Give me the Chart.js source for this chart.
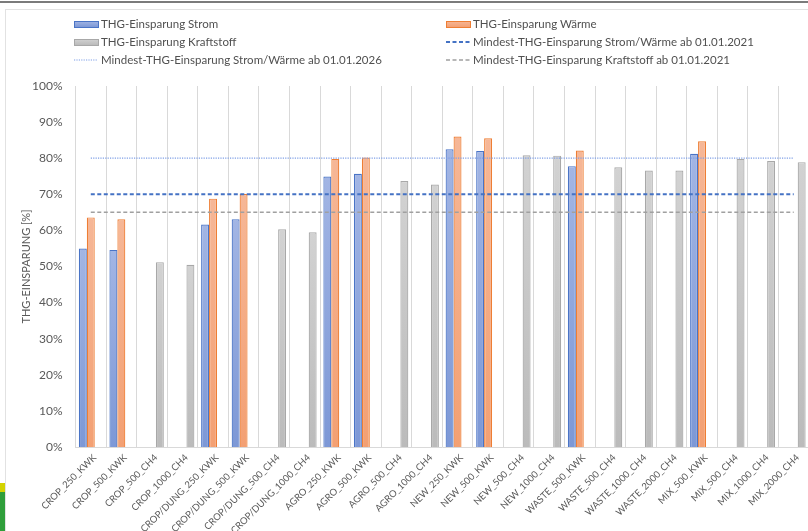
<!DOCTYPE html>
<html><head><meta charset="utf-8">
<script src="https://cdn.jsdelivr.net/npm/chart.js@4/dist/chart.umd.min.js"></script>
<style>
html,body{margin:0;padding:0;background:#fff;width:808px;height:531px;overflow:hidden;position:relative;font-family:'Lato',sans-serif;}
#topline{position:absolute;left:0;top:1px;width:808px;height:2px;background:#7b7b7b;}
#box{position:absolute;left:5px;top:9px;width:830px;height:560px;border:1px solid #e2e2e2;box-sizing:border-box;}
#yel{position:absolute;left:0;top:483px;width:5px;height:9px;background:#d3d300;}
#grn{position:absolute;left:0;top:492px;width:5px;height:39px;background:#2f9e3a;}
#chart{position:absolute;left:0;top:0;}
#legend{position:absolute;left:0;top:0;width:808px;height:80px;}
.li{position:absolute;height:16px;display:flex;align-items:center;font-size:11.5px;color:#505050;white-space:nowrap;}
.li canvas{margin-right:2px;display:block;}
</style></head><body>
<div id="topline"></div>
<div id="box"></div>
<div id="yel"></div>
<div id="grn"></div>
<canvas id="chart" width="809" height="531"></canvas>
<div id="legend"></div>
<script>
const categories = ['CROP_250_KWK','CROP_500_KWK','CROP_500_CH4','CROP_1000_CH4','CROP/DUNG_250_KWK','CROP/DUNG_500_KWK','CROP/DUNG_500_CH4','CROP/DUNG_1000_CH4','AGRO_250_KWK','AGRO_500_KWK','AGRO_500_CH4','AGRO_1000_CH4','NEW_250_KWK','NEW_500_KWK','NEW_500_CH4','NEW_1000_CH4','WASTE_500_KWK','WASTE_500_CH4','WASTE_1000_CH4','WASTE_2000_CH4','MIX_500_KWK','MIX_500_CH4','MIX_1000_CH4','MIX_2000_CH4'];
const strom = [55.0,54.6,null,null,61.6,63.1,null,null,74.9,75.7,null,null,82.5,82.0,null,null,77.8,null,null,null,81.2,null,null,null];
const waerme = [63.6,63.1,null,null,68.8,70.1,null,null,79.8,80.2,null,null,86.0,85.5,null,null,82.1,null,null,null,84.7,null,null,null];
const kraftstoff = [null,null,51.2,50.5,null,null,60.3,59.5,null,null,73.7,72.7,null,null,80.8,80.7,null,77.5,76.6,76.6,null,79.8,79.2,78.9];
const barLabels = ['THG-Einsparung Strom','THG-Einsparung Wärme','THG-Einsparung Kraftstoff'];
const thresholdLabels = ['Mindest-THG-Einsparung Strom/Wärme ab 01.01.2021','Mindest-THG-Einsparung Strom/Wärme ab 01.01.2026','Mindest-THG-Einsparung Kraftstoff ab 01.01.2021'];
const thresholdValues = [70, 80, 65];
const yTicks = [0,10,20,30,40,50,60,70,80,90,100];

const barStyles = [
  {top:'#a2b5e4', bottom:'#7d98d6', border:'#4a74c6'},
  {top:'#f6b797', bottom:'#f3a073', border:'#ee7e34'},
  {top:'#d2d2d2', bottom:'#bbbbbb', border:'#a8a8a8'}
];
const lineStyles = [
  {color:'#4472c4', width:2, dash:[4,2.5]},
  {color:'#7d9ee6', width:1.2, dash:[1.2,1.2]},
  {color:'#a0a0a0', width:1.5, dash:[4,2.5]}
];

function barGrad(style){
  return function(ctx){
    const chart = ctx.chart;
    const y = chart.scales && chart.scales.y;
    if (!y || ctx.raw == null || ctx.type !== 'data') return style.bottom;
    const y0 = y.getPixelForValue(0), y1 = y.getPixelForValue(ctx.raw);
    if (!isFinite(y0) || !isFinite(y1) || y0 === y1) return style.bottom;
    const g = chart.ctx.createLinearGradient(0, y0, 0, y1);
    g.addColorStop(0, style.bottom);
    g.addColorStop(1, style.top);
    return g;
  };
}

const seriesData = [strom, waerme, kraftstoff];
const datasets = [];
seriesData.forEach((d,i)=>{
  datasets.push({
    type:'bar', label: barLabels[i], data: d,
    backgroundColor: barGrad(barStyles[i]),
    borderColor: barStyles[i].border, borderWidth: 1.2,
    categoryPercentage: 0.78, barPercentage: 1.0, order: 1
  });
});
thresholdValues.forEach((v,i)=>{
  datasets.push({
    type:'line', label: thresholdLabels[i],
    data: [{x: categories[0], y: v}, {x: categories[categories.length-1], y: v}],
    borderColor: lineStyles[i].color, borderWidth: lineStyles[i].width,
    borderDash: lineStyles[i].dash, pointRadius: 0, fill: false, order: 0
  });
});

const FONT = "'Lato', sans-serif";
const chart = new Chart(document.getElementById('chart'), {
  data: { labels: categories, datasets },
  options: {
    responsive: false, animation: false,
    layout: { padding: { top: 86, left: 14, right: 0, bottom: 0 } },
    plugins: { legend: { display: false }, tooltip: { enabled: false } },
    scales: {
      x: {
        offset: true,
        grid: { display: true, offset: true, color: '#d9d9d9', lineWidth: 1, drawTicks: false },
        border: { display: true, color: '#d9d9d9' },
        ticks: { minRotation: 45, maxRotation: 45, autoSkip: false, padding: 5, labelOffset: 4,
          color: '#595959', font: { family: FONT, size: 9.5 } },
        afterFit: s => { s.height = 84; }
      },
      y: {
        min: 0, max: 100,
        afterBuildTicks: s => { s.ticks = yTicks.map(v => ({value: v})); },
        grid: { display: false, drawTicks: false },
        border: { display: false },
        ticks: { padding: 13, color: '#595959', font: { family: FONT, size: 12 },
          callback: v => v + '%' },
        title: { display: true, text: 'THG-EINSPARUNG [%]', color: '#595959',
          font: { family: FONT, size: 11 }, padding: { top: 6, bottom: 0 } },
        afterFit: s => { s.width = 61.5; }
      }
    }
  }
});

const legend = document.getElementById('legend');
const colX = [74, 446];
const rowY = [23.5, 41.5, 59.5];
chart.data.datasets.forEach((ds, i) => {
  const col = i % 2, row = Math.floor(i / 2);
  const el = document.createElement('div');
  el.className = 'li';
  el.style.left = colX[col] + 'px';
  el.style.top = (rowY[row] - 8) + 'px';
  const c = document.createElement('canvas');
  c.width = 25; c.height = 16;
  const g = c.getContext('2d');
  if (ds.type === 'bar') {
    const st = barStyles[i];
    const gr = g.createLinearGradient(0, 11, 0, 5);
    gr.addColorStop(0, st.bottom); gr.addColorStop(1, st.top);
    g.fillStyle = gr; g.fillRect(0.5, 5.5, 24, 6);
    g.strokeStyle = st.border; g.lineWidth = 1; g.strokeRect(0.5, 5.5, 24, 6);
  } else {
    const st = lineStyles[i - 3];
    g.strokeStyle = st.color; g.lineWidth = st.width; g.setLineDash(st.dash);
    g.beginPath(); g.moveTo(0, 8); g.lineTo(24, 8); g.stroke();
  }
  el.appendChild(c);
  const t = document.createElement('span');
  t.textContent = ds.label;
  el.appendChild(t);
  legend.appendChild(el);
});
</script>
</body></html>
